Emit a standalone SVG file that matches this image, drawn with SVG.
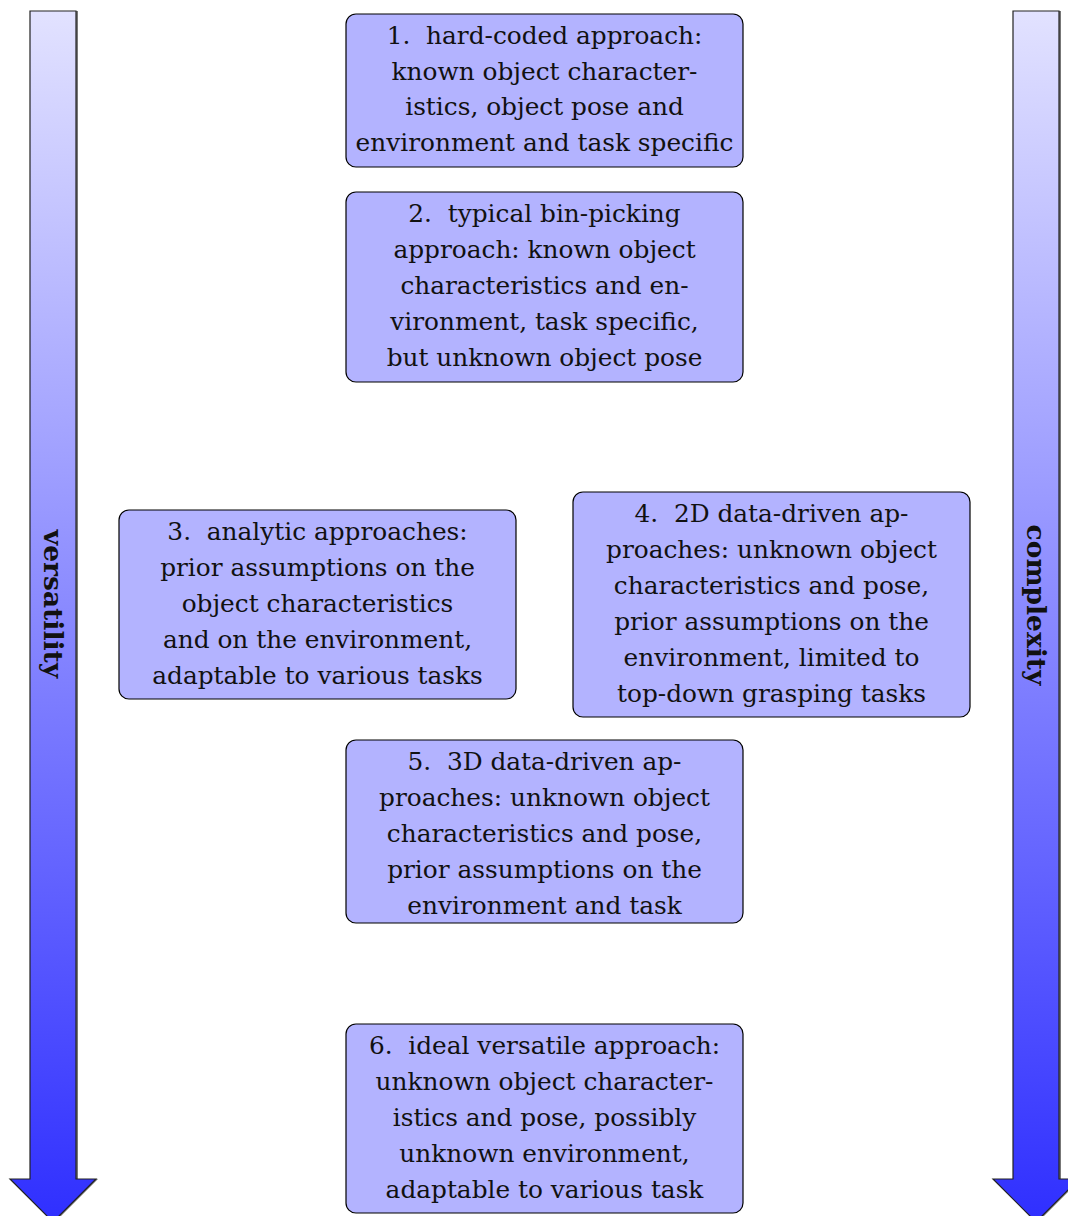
<svg xmlns="http://www.w3.org/2000/svg" width="1068" height="1216" viewBox="0 0 1068 1216">
<style>
.box{fill:#b3b3ff;stroke:#000;stroke-width:1.2}
.t{font-family:"DejaVu Serif","Liberation Serif",serif;font-size:24.8px;fill:#111;text-anchor:middle}
.lab{font-family:"DejaVu Serif","Liberation Serif",serif;font-size:26.5px;font-weight:bold;fill:#111;text-anchor:middle}
.arr{fill:url(#g);stroke:#222;stroke-width:1.2}
</style>
<defs>
<linearGradient id="g" x1="0" y1="11" x2="0" y2="1216" gradientUnits="userSpaceOnUse">
<stop offset="0" stop-color="#e2e2ff"/>
<stop offset="1" stop-color="#3030ff"/>
</linearGradient>
</defs>
<g id="connectors">
<g id="arrow-versatility">
<path d="M32,11 V1179 H12 L55,1222 L98,1179 H78 V11 Z" fill="#777" stroke="none"/>
<path class="arr" d="M30,11 V1179 H10 L53,1222 L96,1179 H76 V11 Z"/>
<text class="lab" transform="translate(44,604) rotate(90)">versatility</text>
</g>
<g id="arrow-complexity">
<path d="M1015,11 V1179 H995 L1038,1222 L1081,1179 H1061 V11 Z" fill="#777" stroke="none"/>
<path class="arr" d="M1013,11 V1179 H993 L1036,1222 L1079,1179 H1059 V11 Z"/>
<text class="lab" transform="translate(1027,605) rotate(90)">complexity</text>
</g>
</g>
<g id="node1">
<rect class="box" x="346" y="14" width="397" height="153" rx="10"/>
<text class="t" x="544.5" y="44">1.&#160; hard-coded approach:</text>
<text class="t" x="544.5" y="80">known object character-</text>
<text class="t" x="544.5" y="115">istics, object pose and</text>
<text class="t" x="544.5" y="151">environment and task specific</text>
</g>
<g id="node2">
<rect class="box" x="346" y="192" width="397" height="190" rx="10"/>
<text class="t" x="544.5" y="222">2.&#160; typical bin-picking</text>
<text class="t" x="544.5" y="258">approach: known object</text>
<text class="t" x="544.5" y="294">characteristics and en-</text>
<text class="t" x="544.5" y="330">vironment, task specific,</text>
<text class="t" x="544.5" y="366">but unknown object pose</text>
</g>
<g id="node3">
<rect class="box" x="119" y="510" width="397" height="189" rx="10"/>
<text class="t" x="317.5" y="540">3.&#160; analytic approaches:</text>
<text class="t" x="317.5" y="576">prior assumptions on the</text>
<text class="t" x="317.5" y="612">object characteristics</text>
<text class="t" x="317.5" y="648">and on the environment,</text>
<text class="t" x="317.5" y="684">adaptable to various tasks</text>
</g>
<g id="node4">
<rect class="box" x="573" y="492" width="397" height="225" rx="10"/>
<text class="t" x="771.5" y="522">4.&#160; 2D data-driven ap-</text>
<text class="t" x="771.5" y="558">proaches: unknown object</text>
<text class="t" x="771.5" y="594">characteristics and pose,</text>
<text class="t" x="771.5" y="630">prior assumptions on the</text>
<text class="t" x="771.5" y="666">environment, limited to</text>
<text class="t" x="771.5" y="702">top-down grasping tasks</text>
</g>
<g id="node5">
<rect class="box" x="346" y="740" width="397" height="183" rx="10"/>
<text class="t" x="544.5" y="770">5.&#160; 3D data-driven ap-</text>
<text class="t" x="544.5" y="806">proaches: unknown object</text>
<text class="t" x="544.5" y="842">characteristics and pose,</text>
<text class="t" x="544.5" y="878">prior assumptions on the</text>
<text class="t" x="544.5" y="914">environment and task</text>
</g>
<g id="node6">
<rect class="box" x="346" y="1024" width="397" height="189" rx="10"/>
<text class="t" x="544.5" y="1054">6.&#160; ideal versatile approach:</text>
<text class="t" x="544.5" y="1090">unknown object character-</text>
<text class="t" x="544.5" y="1126">istics and pose, possibly</text>
<text class="t" x="544.5" y="1162">unknown environment,</text>
<text class="t" x="544.5" y="1198">adaptable to various task</text>
</g>
</svg>
